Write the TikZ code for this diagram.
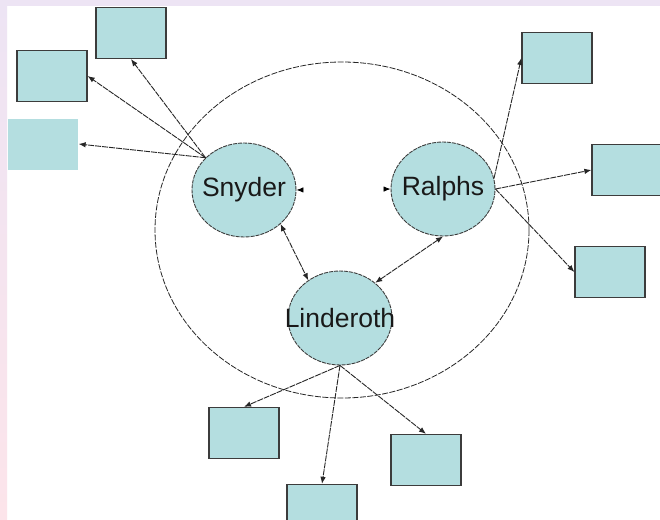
\documentclass[tikz,border=0pt]{standalone}
\usepackage{fontspec}
\setmainfont{Liberation Sans}
\usetikzlibrary{shapes.geometric,arrows.meta}
\definecolor{teal1}{RGB}{180,222,224}
\definecolor{edge1}{RGB}{60,60,60}
\definecolor{lav}{RGB}{237,228,244}
\definecolor{pinkb}{RGB}{252,228,234}
\newcommand{\zw}[1]{\makebox[0pt]{#1}}
\begin{document}
\begin{tikzpicture}[x=1pt,y=-1pt,
  person/.style={ellipse,draw=edge1,fill=teal1,line width=0.9pt,dash pattern=on 4pt off 1pt,
    minimum width=104pt,minimum height=94pt,inner sep=0pt,text=black!90,font=\fontsize{26.5}{28}\selectfont},
  box/.style={rectangle,draw=edge1,fill=teal1,line width=1.3pt,minimum width=70pt,minimum height=51pt,inner sep=0pt},
  conn/.style={draw=black!85,line width=0.9pt,dash pattern=on 6pt off 1pt,-{Latex[length=7pt,width=5.5pt]}},
  biconn/.style={conn,{Latex[length=7pt,width=5.5pt]}-{Latex[length=7pt,width=5.5pt]}}]
\useasboundingbox (0,0) rectangle (660,519);
\fill[white] (0,0) rectangle (660,519);
\fill[lav] (0,0) rectangle (660,6);
\shade[top color=lav,bottom color=pinkb] (0,0) rectangle (7,519);
% group ellipse
\node[ellipse,draw=black!85,line width=0.8pt,dash pattern=on 6pt off 1.5pt,minimum width=374pt,minimum height=336pt,inner sep=0pt] (grp) at (342,230) {};
% people
\node[person] (sny) at (244,190) {\zw{Snyder}};
\node[person] (ral) at (443,189) {\zw{Ralphs}};
\node[person] (lin) at (340,318) {\zw{Linderoth}};
% boxes
\node[box] (b1) at (131,33) {};
\node[box] (b2) at (52,76) {};
\node[box,draw=none] (b3) at (43,144) {};
\node[box] (r1) at (557,58) {};
\node[box] (r2) at (627,170) {};
\node[box] (r3) at (610,272) {};
\node[box] (l1) at (244,433) {};
\node[box] (l2) at (322,510) {};
\node[box] (l3) at (426,460) {};
% connectors
\draw[conn] (sny.140) -- (b1.south);
\draw[conn] (sny.140) -- (b2.east);
\draw[conn] (sny.140) -- (b3.east);
\draw[biconn] (sny.-43) -- (lin.130);
\draw[biconn] (ral.south) -- (lin.45);
\draw[draw=white,line width=0.8pt,{Latex[length=7pt,width=5.5pt,black]}-{Latex[length=7pt,width=5.5pt,black]}] (sny.east) -- (ral.west);
\draw[conn] (ral.12) -- (r1.west);
\draw[conn] (ral.east) -- (r2.west);
\draw[conn] (ral.east) -- (r3.west);
\draw[conn] (lin.south) -- (l1.north);
\draw[conn] (lin.south) -- (l2.north);
\draw[conn] (lin.south) -- (l3.north);
\end{tikzpicture}
\end{document}
